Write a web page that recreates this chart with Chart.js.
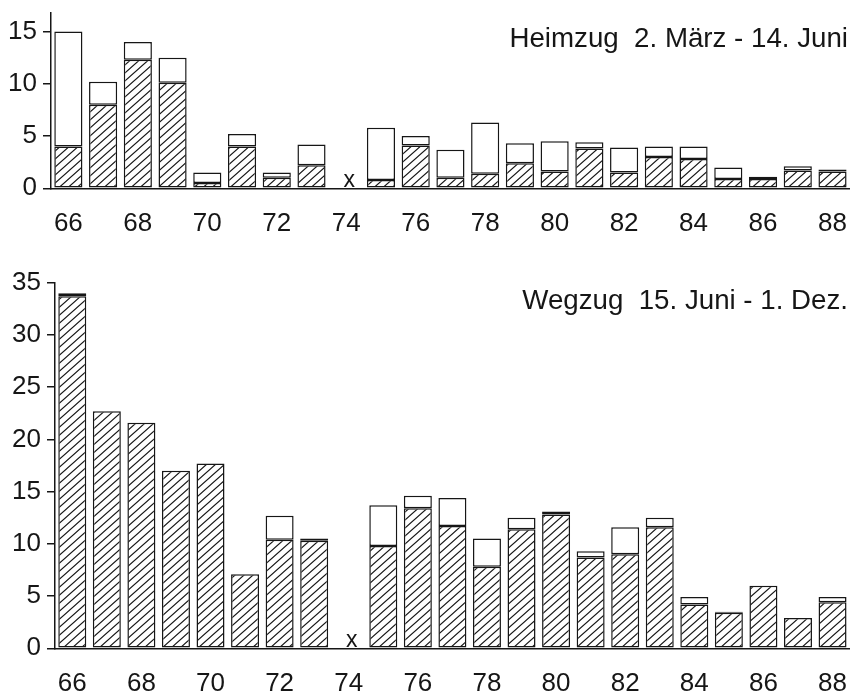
<!DOCTYPE html>
<html>
<head>
<meta charset="utf-8">
<script src="https://cdn.jsdelivr.net/npm/chart.js@4.4.1/dist/chart.umd.min.js"></script>
<style>
  html, body { margin: 0; padding: 0; background: #fff; }
  #wrap { position: relative; width: 859px; height: 693px; overflow: hidden; }
  #heim { position: absolute; left: 0; top: 0; }
  #weg  { position: absolute; left: 0; top: 240px; }
</style>
</head>
<body>
<div id="wrap">
  <canvas id="heim" width="859" height="240"></canvas>
  <canvas id="weg" width="859" height="453"></canvas>
</div>
<script>
// Years 1966–1988; 1974 has no count (marked with an x on the axis)
const years = ['66','67','68','69','70','71','72','73','74','75','76','77','78','79','80','81','82','83','84','85','86','87','88'];
const tickYears = ['66','68','70','72','74','76','78','80','82','84','86','88'];

// Spring passage (Heimzug): bar totals and hatched share
const heimzugTotal   = [15.0, 10.2, 14.0, 12.5, 1.5, 5.2, 1.5, 4.2, null, 5.8, 5.0, 3.7, 6.3, 4.3, 4.5, 4.4, 3.9, 4.0, 4.0, 2.0, 1.1, 2.1, 1.8];
const heimzugHatched = [ 4.0,  8.0, 12.3, 10.1, 0.5, 4.0, 1.0, 2.2, null, 0.8, 4.1, 1.0, 1.4, 2.4, 1.6, 3.8, 1.5, 3.0, 2.8, 0.9, 0.9, 1.7, 1.6];
const heimzugTicks   = [0, 5, 10, 15];

// Autumn passage (Wegzug): bar totals and hatched share
const wegzugTotal   = [34.0, 22.7, 21.6, 17.0, 17.7, 7.1, 12.7, 10.5, null, 13.7, 14.6, 14.4, 10.5, 12.5, 13.1, 9.3, 11.6, 12.5, 4.9, 3.5, 6.0, 2.9, 4.9];
const wegzugHatched = [33.7, 22.7, 21.6, 17.0, 17.7, 7.1, 10.4, 10.3, null,  9.8, 13.4, 11.7,  7.8, 11.4, 12.8, 8.7,  9.0, 11.6, 4.2, 3.4, 6.0, 2.9, 4.4];
const wegzugTicks   = [0, 5, 10, 15, 20, 25, 30, 35];

const heimzugTitle = 'Heimzug  2. März - 14. Juni';
const wegzugTitle  = 'Wegzug  15. Juni - 1. Dez.';

const INK = '#161616';
const FONT = 'Liberation Sans, Arial, Helvetica, sans-serif';

// Diagonal hatch fill
function makeHatch() {
  const w = 9, h = 8;
  const c = document.createElement('canvas');
  c.width = w; c.height = h;
  const g = c.getContext('2d');
  g.fillStyle = '#fff';
  g.fillRect(0, 0, w, h);
  g.strokeStyle = INK;
  g.lineWidth = 1.2;
  g.beginPath();
  // main diagonal plus the wrapped pieces at the corners
  g.moveTo(-w, 2 * h); g.lineTo(2 * w, -h);
  g.moveTo(-w, h);     g.lineTo(w, -h);
  g.moveTo(0, 2 * h);  g.lineTo(2 * w, 0);
  g.stroke();
  return g.createPattern(c, 'repeat');
}
const hatch = makeHatch();

// Panel heading and missing-year marks
const panelDecor = {
  id: 'panelDecor',
  afterDraw(chart, args, opts) {
    const ctx = chart.ctx;
    const xs = chart.scales.x, ys = chart.scales.y;
    ctx.save();
    ctx.fillStyle = INK;
    ctx.font = '27.7px ' + FONT;
    ctx.textAlign = 'right';
    ctx.textBaseline = 'alphabetic';
    ctx.fillText(opts.text, opts.x, opts.y);
    ctx.font = '23px ' + FONT;
    ctx.textAlign = 'center';
    const totals = chart.data.datasets[0].data;
    totals.forEach((v, i) => {
      if (v === null) ctx.fillText('x', xs.getPixelForValue(i) + 3, ys.getPixelForValue(0) - 1);
    });
    ctx.restore();
  }
};

function remainder(total, hatched) {
  return total.map((t, i) => t === null ? null : Math.round((t - hatched[i]) * 10) / 10);
}

function build(canvasId, total, hatched, tickValues, cfg) {
  return new Chart(document.getElementById(canvasId), {
    type: 'bar',
    data: {
      labels: years,
      datasets: [
        { data: hatched, backgroundColor: hatch, borderColor: INK, borderWidth: 1.5, borderSkipped: false,
          barPercentage: 0.9, categoryPercentage: 0.9 },
        { data: remainder(total, hatched), backgroundColor: '#fff', borderColor: INK, borderWidth: 1.5, borderSkipped: false,
          barPercentage: 0.9, categoryPercentage: 0.9 }
      ]
    },
    options: {
      responsive: false,
      animation: false,
      events: [],
      layout: { padding: { top: cfg.padTop, right: cfg.padRight, left: 0, bottom: 0 } },
      plugins: {
        legend: { display: false },
        tooltip: { enabled: false },
        panelDecor: { text: cfg.title, x: cfg.titleX, y: cfg.titleY }
      },
      scales: {
        x: {
          stacked: true,
          offset: true,
          grid: { display: false },
          border: { display: true, color: INK, width: 1.5 },
          ticks: {
            autoSkip: false, maxRotation: 0, color: INK, padding: cfg.xPad,
            font: { family: FONT, size: 26 },
            callback: (v, i) => tickYears.includes(years[i]) ? years[i] : ''
          },
          afterFit: s => { s.height = cfg.xHeight; }
        },
        y: {
          stacked: true,
          min: 0,
          max: cfg.max,
          grid: { display: true, drawOnChartArea: false, drawTicks: true, tickLength: 8, color: INK, lineWidth: 1.5 },
          border: { display: true, color: INK, width: 1.5 },
          ticks: { color: INK, padding: 6, font: { family: FONT, size: 26 } },
          afterBuildTicks: s => { s.ticks = tickValues.map(v => ({ value: v })); },
          afterFit: s => { s.width = cfg.yWidth; s.paddingTop = 0; s.paddingBottom = 0; }
        }
      }
    },
    plugins: [panelDecor]
  });
}

build('heim', heimzugTotal, heimzugHatched, heimzugTicks, {
  max: 16.8, padTop: 12.7, padRight: 1.5, xHeight: 51.7, yWidth: 51, xPad: 12,
  title: heimzugTitle, titleX: 848, titleY: 47
});
build('weg', wegzugTotal, wegzugHatched, wegzugTicks, {
  max: 35, padTop: 42.7, padRight: 0, xHeight: 44.7, yWidth: 55, xPad: 12,
  title: wegzugTitle, titleX: 848, titleY: 69.3
});
</script>
</body>
</html>
